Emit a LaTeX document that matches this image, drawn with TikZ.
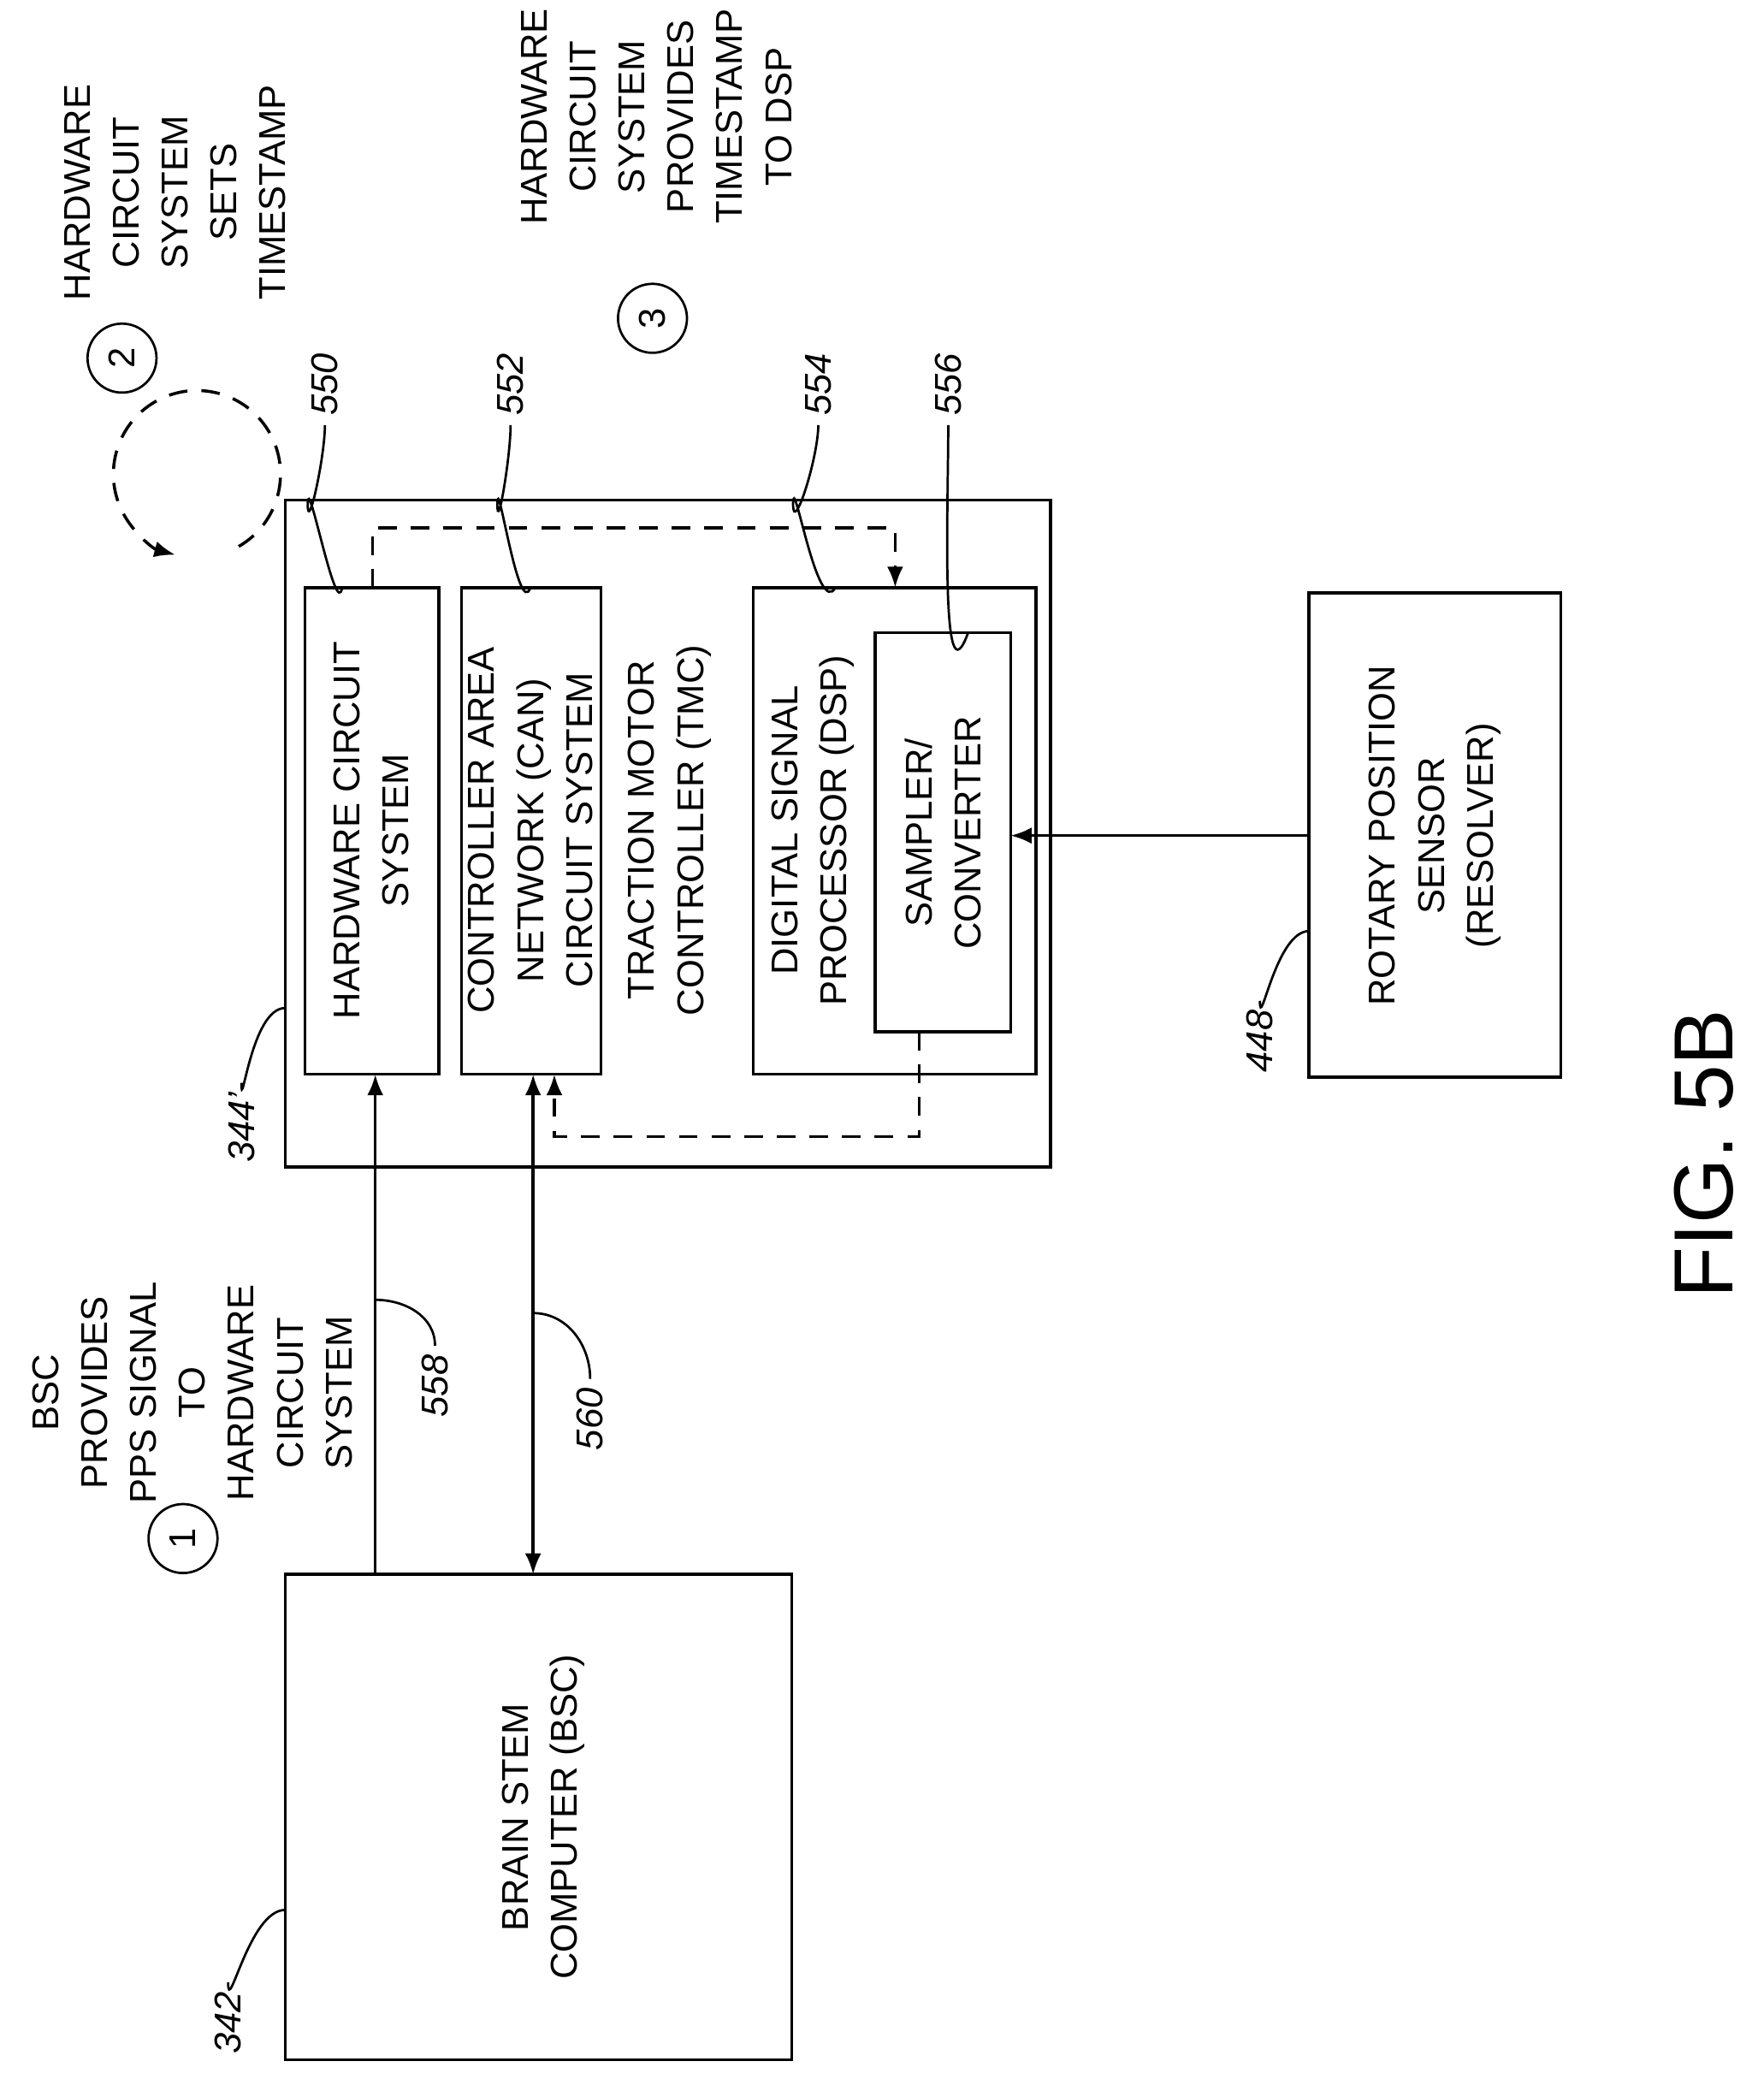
\documentclass[tikz,border=0pt]{standalone}
\usepackage{fontspec}
\setmainfont{Liberation Sans}
\usetikzlibrary{arrows.meta}
\begin{document}
\begin{tikzpicture}[x=0.02cm,y=-0.02cm,line width=1.3pt,
 txt/.style={rotate=90,align=center,font=\fontsize{16}{21}\selectfont},
 lbl/.style={rotate=90,font=\fontsize{16}{20}\selectfont\itshape},
 box/.style={draw},
 arr/.style={-{Latex[length=9pt,width=7pt]}},
 dsh/.style={dashed,dash pattern=on 8pt off 6pt}]
\useasboundingbox (0,0) rectangle (1330,1572);
\draw[box] (215,377) rectangle (792,880);
\coordinate (tmc) at (215,760);
\draw[box] (230,443) rectangle (331,810);
\node[txt] (hw) at (280,626) {HARDWARE CIRCUIT\\SYSTEM};
\draw[box] (348,443) rectangle (453,810);
\node[txt] (can) at (400,626) {CONTROLLER AREA\\NETWORK (CAN)\\CIRCUIT SYSTEM};
\node[txt] (tmct) at (505,626) {TRACTION MOTOR\\CONTROLLER (TMC)};
\draw[box] (568,443) rectangle (781,810);
\node[txt] (dsp) at (613,626) {DIGITAL SIGNAL\\PROCESSOR (DSP)};
\draw[box] (660,477) rectangle (762,778);
\node[txt] (smp) at (711,628) {SAMPLER/\\CONVERTER};
\draw[box] (987,447) rectangle (1177,812);
\node[txt] (rps) at (1082,630) {ROTARY POSITION\\SENSOR\\(RESOLVER)};
\draw[box] (215,1187) rectangle (597,1553);
\node[txt] (bsc) at (410,1370) {BRAIN STEM\\COMPUTER (BSC)};
\coordinate (s1) at (987,630); \coordinate (s2) at (762,630);
\draw[arr] (s1) -- (s2);
\coordinate (b1) at (283,1187); \coordinate (h1) at (283,810);
\draw[arr] (b1) -- (h1);
\coordinate (b2) at (402,1187); \coordinate (c2) at (402,810);
\draw[{Latex[length=9pt,width=7pt]}-{Latex[length=9pt,width=7pt]}] (b2) -- (c2);
\coordinate (d1) at (281,443); \coordinate (d2) at (675,443);
\draw[dsh,arr] (d1) -- (281,398) -- (675,398) -- (d2);
\coordinate (e1) at (693,778); \coordinate (e2) at (418,810);
\draw[dsh,arr] (e1) -- (693,857) -- (418,857) -- (e2);
\draw[dsh,arr] (180,412) arc[start angle=60,end angle=-255,radius=63];
\foreach \n/\x/\y in {1/138/1160,2/92/270,3/492/240}{
 \draw[line width=1pt] (\x,\y) circle[radius=26];
 \node[font=\fontsize{16}{20}\selectfont,rotate=90] (c\n) at (\x,\y) {\n};}
\node[txt] (t1) at (145,1050) {BSC\\PROVIDES\\PPS SIGNAL\\TO\\HARDWARE\\CIRCUIT\\SYSTEM};
\node[txt] (t2) at (132,145) {HARDWARE\\CIRCUIT\\SYSTEM\\SETS\\TIMESTAMP};
\node[txt] (t3) at (495,88) {HARDWARE\\CIRCUIT\\SYSTEM\\PROVIDES\\TIMESTAMP\\TO DSP};
\node[lbl] (l550) at (245,290) {550};
\draw[line width=1pt] (258,443) to[out=-100,in=90] (232,380) to[out=-90,in=-90] (l550.west);
\node[lbl] (l552) at (385,290) {552};
\draw[line width=1pt] (400,443) to[out=-110,in=90] (375,380) to[out=-90,in=-90] (l552.west);
\node[lbl] (l554) at (617,290) {554};
\draw[line width=1pt] (630,443) to[out=-120,in=90] (598,380) to[out=-90,in=-90] (l554.west);
\node[lbl] (l556) at (715,290) {556};
\draw[line width=1pt] (730,477) to[out=-110,in=-90] (l556.west);
\node[lbl] (l344) at (182,850) {344'};
\draw[line width=1pt] (tmc) to[out=180,in=-90] (l344.east);
\node[lbl] (l558) at (328,1045) {558};
\draw[line width=1pt] (283,980) to[out=0,in=90] (l558.east);
\node[lbl] (l560) at (445,1070) {560};
\draw[line width=1pt] (402,990) to[out=0,in=90] (l560.east);
\node[lbl] (l448) at (950,785) {448};
\draw[line width=1pt] (987,702) to[out=180,in=-90] (l448.east);
\node[lbl] (l342) at (172,1525) {342};
\draw[line width=1pt] (215,1440) to[out=180,in=-90] (l342.east);
\node[rotate=90,font=\fontsize{36}{40}\selectfont] (fig) at (1285,870) {FIG. 5B};
\end{tikzpicture}
\end{document}
